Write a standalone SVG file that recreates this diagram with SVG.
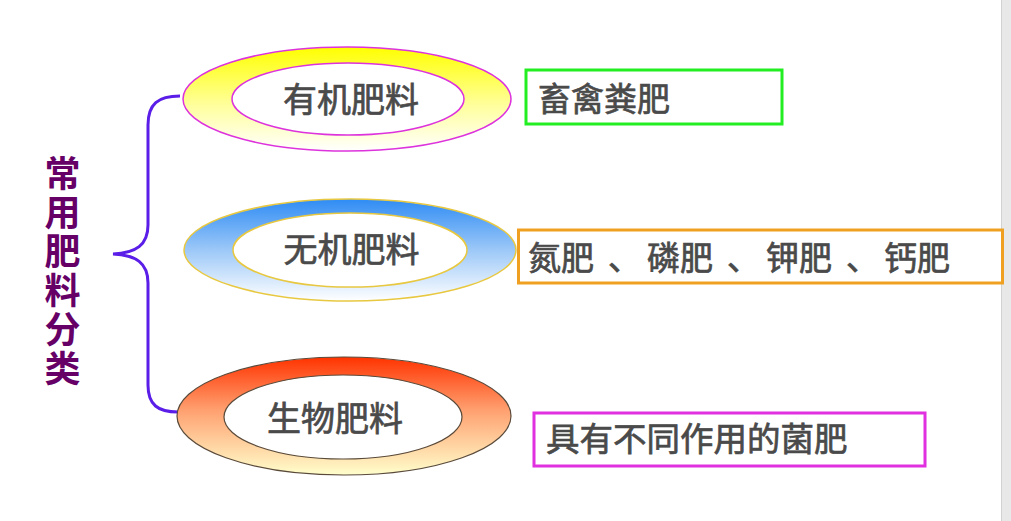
<svg xmlns="http://www.w3.org/2000/svg" width="1011" height="521" viewBox="0 0 1011 521">
<defs>
<linearGradient id="gY" x1="0" y1="0" x2="0" y2="1"><stop offset="0" stop-color="#ffff00"/><stop offset="0.55" stop-color="#ffff9a"/><stop offset="1" stop-color="#ffffff"/></linearGradient>
<linearGradient id="gB" x1="0" y1="0" x2="0" y2="1"><stop offset="0" stop-color="#2f8cf4"/><stop offset="0.5" stop-color="#9cc8f8"/><stop offset="1" stop-color="#ffffff"/></linearGradient>
<linearGradient id="gR" x1="0" y1="0" x2="0" y2="1"><stop offset="0" stop-color="#ff3300"/><stop offset="0.45" stop-color="#ffa070"/><stop offset="1" stop-color="#ffffcc"/></linearGradient>
<style>
.t{font-family:"Noto Sans CJK SC","Noto Sans CJK JP",sans-serif;font-weight:400;fill:#4a4a4a;stroke:#4a4a4a;stroke-width:0.7px;}
.c{text-anchor:middle;}
.v{font-family:"Noto Sans CJK SC","Noto Sans CJK JP",sans-serif;font-weight:700;fill:#660066;font-size:36px;}
.box{fill:#ffffff;stroke-width:3;}
</style>
</defs>
<rect width="1011" height="521" fill="#ffffff"/>
<rect x="1002" y="0" width="9" height="521" fill="#e8e8e8"/>
<line x1="1001.5" y1="0" x2="1001.5" y2="521" stroke="#d2d2d2"/>

<g id="title">
<text class="v" x="62.5" y="155" writing-mode="tb" letter-spacing="3">常用肥料分类</text>
</g>

<g id="connectors">
<path d="M180,96 C158,96 148,104 148,125 L148,225 C148,245 136,253 113,254 C136,255 148,263 148,283 L148,385 C148,405 158,412 178,412" fill="none" stroke="#5a1ee8" stroke-width="3"/>
</g>

<g id="organic">
<ellipse cx="347" cy="99" rx="164" ry="52" fill="url(#gY)" stroke="#dd33dd" stroke-width="1.5"/>
<ellipse cx="348" cy="99" rx="116" ry="36" fill="#ffffff" stroke="#dd33dd" stroke-width="1.5"/>
<text class="t c" x="351" y="112" font-size="34">有机肥料</text>
</g>

<g id="inorganic">
<ellipse cx="350" cy="250" rx="166" ry="51" fill="url(#gB)" stroke="#e8c840" stroke-width="1.5"/>
<ellipse cx="350" cy="250" rx="117" ry="37" fill="#ffffff" stroke="#e8c840" stroke-width="1.5"/>
<text class="t c" x="351.5" y="262" font-size="34">无机肥料</text>
</g>

<g id="bio">
<ellipse cx="344" cy="416" rx="167" ry="59" fill="url(#gR)" stroke="#5a4a3a" stroke-width="1.2"/>
<ellipse cx="343" cy="417" rx="119" ry="42" fill="#ffffff" stroke="#5a4a3a" stroke-width="1.2"/>
<text class="t c" x="335" y="431" font-size="34">生物肥料</text>
</g>

<g id="box-organic">
<rect class="box" x="526" y="70" width="256" height="54" stroke="#22ee22"/>
<text class="t" x="538" y="111" font-size="33">畜禽粪肥</text>
</g>

<g id="box-inorganic">
<rect class="box" x="518.5" y="230" width="484" height="53" stroke="#f0a020"/>
<text class="t" y="270" font-size="33"><tspan x="528">氮肥</tspan><tspan x="608">、</tspan><tspan x="647">磷肥</tspan><tspan x="727">、</tspan><tspan x="766">钾肥</tspan><tspan x="846">、</tspan><tspan x="884">钙肥</tspan></text>
</g>

<g id="box-bio">
<rect class="box" x="534" y="413" width="391" height="53" stroke="#e030e0"/>
<text class="t" x="546" y="451" font-size="33.5">具有不同作用的菌肥</text>
</g>
</svg>
